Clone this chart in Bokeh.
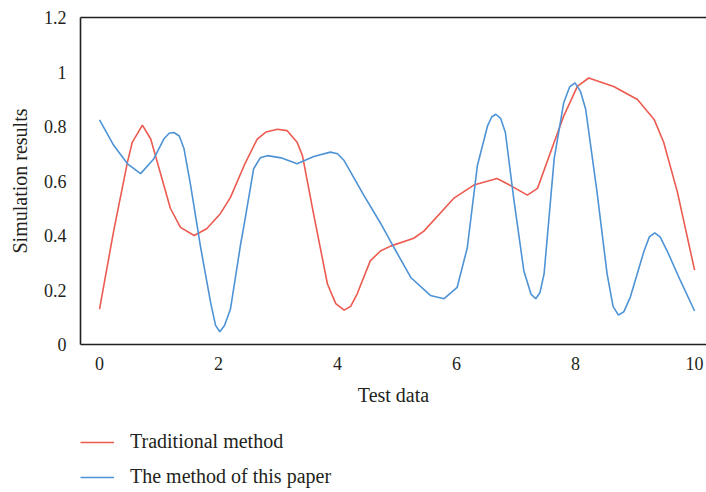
from bokeh.plotting import figure
from bokeh.models import Legend, LegendItem, LinearAxis, FixedTicker, Range1d
from bokeh.layouts import column
from bokeh.embed import file_html
from bokeh.resources import INLINE

# Traditional method (red)
trad_x = [0.00, 0.24, 0.47, 0.55, 0.72, 0.86, 0.97, 1.19, 1.36, 1.59, 1.80, 2.03, 2.20, 2.43,
          2.65, 2.80, 2.99, 3.15, 3.32, 3.41, 3.60, 3.83, 3.97, 4.11, 4.22, 4.33, 4.55, 4.72,
          4.89, 5.28, 5.45, 5.95, 6.29, 6.68, 6.85, 7.19, 7.36, 7.64, 7.80, 8.03, 8.22, 8.64,
          9.04, 9.32, 9.48, 9.71, 10.0]
trad_y = [0.13, 0.42, 0.67, 0.742, 0.805, 0.754, 0.67, 0.50, 0.43, 0.40, 0.425, 0.48, 0.54,
          0.657, 0.754, 0.78, 0.79, 0.785, 0.742, 0.693, 0.476, 0.222, 0.15, 0.126, 0.14,
          0.186, 0.307, 0.343, 0.361, 0.39, 0.416, 0.536, 0.585, 0.609, 0.59, 0.548, 0.573,
          0.742, 0.838, 0.947, 0.978, 0.947, 0.899, 0.826, 0.742, 0.56, 0.273]

# The method of this paper (blue)
paper_x = [0.00, 0.24, 0.47, 0.69, 0.91, 1.08, 1.17, 1.25, 1.34, 1.42, 1.53, 1.70, 1.87, 1.95,
           2.02, 2.10, 2.20, 2.37, 2.43, 2.59, 2.70, 2.82, 3.05, 3.32, 3.60, 3.88, 4.00, 4.11,
           4.44, 4.72, 4.95, 5.23, 5.56, 5.79, 6.01, 6.18, 6.35, 6.52, 6.59, 6.66, 6.74, 6.82,
           6.96, 7.13, 7.25, 7.33, 7.40, 7.47, 7.64, 7.80, 7.90, 7.99, 8.08, 8.17, 8.36, 8.53,
           8.63, 8.72, 8.81, 8.92, 9.15, 9.24, 9.33, 9.42, 9.54, 9.76, 10.0]
paper_y = [0.824, 0.73, 0.663, 0.627, 0.681, 0.754, 0.775, 0.778, 0.765, 0.718, 0.585, 0.355,
           0.15, 0.07, 0.047, 0.07, 0.13, 0.367, 0.44, 0.645, 0.685, 0.693, 0.685, 0.663,
           0.69, 0.706, 0.70, 0.675, 0.548, 0.446, 0.355, 0.246, 0.18, 0.168, 0.21, 0.355,
           0.657, 0.802, 0.835, 0.845, 0.83, 0.778, 0.536, 0.271, 0.185, 0.168, 0.19, 0.258,
           0.681, 0.887, 0.945, 0.96, 0.93, 0.863, 0.56, 0.258, 0.14, 0.108, 0.12, 0.174,
           0.343, 0.395, 0.41, 0.395, 0.343, 0.235, 0.123]

x_ticks = [0, 2, 4, 6, 8, 10]
y_ticks = [0, 0.2, 0.4, 0.6, 0.8, 1.0, 1.2]
y_tick_labels = {0: "0", 0.2: "0.2", 0.4: "0.4", 0.6: "0.6", 0.8: "0.8", 1.0: "1", 1.2: "1.2"}
series_names = ["Traditional method", "The method of this paper"]
series_colors = ["#ec5a50", "#4d93d5"]

FONT = "Liberation Serif"
TXT = "#231f20"
AX = "#231f20"

p = figure(width=706, height=408, output_backend="svg", toolbar_location=None,
           x_range=Range1d(-0.32, 10.2), y_range=Range1d(0, 1.2),
           min_border_left=80, min_border_top=17, min_border_right=0, min_border_bottom=60)
p.outline_line_color = None
p.xgrid.visible = False
p.ygrid.visible = False

p.line(trad_x, trad_y, line_color=series_colors[0], line_width=1.6)
p.line(paper_x, paper_y, line_color=series_colors[1], line_width=1.6)

for ax in (p.xaxis[0], p.yaxis[0]):
    ax.axis_line_color = AX
    ax.axis_line_width = 1.6
    ax.major_tick_line_color = None
    ax.minor_tick_line_color = None
    ax.major_label_text_font = FONT
    ax.major_label_text_font_size = "18px"
    ax.major_label_text_color = TXT
    ax.axis_label_text_font = FONT
    ax.axis_label_text_font_size = "20px"
    ax.axis_label_text_font_style = "normal"
    ax.axis_label_text_color = TXT

p.xaxis.ticker = FixedTicker(ticks=x_ticks)
p.yaxis.ticker = FixedTicker(ticks=y_ticks)
p.yaxis.major_label_overrides = y_tick_labels
p.xaxis.axis_label = "Test data"
p.yaxis.axis_label = "Simulation results"
p.xaxis.major_label_standoff = 6
p.yaxis.major_label_standoff = 8
p.xaxis.axis_label_standoff = 11
p.yaxis.axis_label_standoff = 10

top = LinearAxis(ticker=FixedTicker(ticks=[]), axis_line_color=AX, axis_line_width=1.6,
                 major_tick_line_color=None, minor_tick_line_color=None,
                 major_label_text_font_size="0px")
p.add_layout(top, "above")

# legend panel below the chart (its lines lie outside its view; only the legend shows)
lg = figure(width=706, height=84, output_backend="svg", toolbar_location=None,
            x_range=Range1d(100, 101), y_range=Range1d(100, 101),
            x_axis_type=None, y_axis_type=None,
            min_border_left=0, min_border_right=0, min_border_top=0, min_border_bottom=0)
lg.grid.visible = False
lg.outline_line_color = None
items = []
for name, col, xs, ys in zip(series_names, series_colors, [trad_x, paper_x], [trad_y, paper_y]):
    rr = lg.line(xs, ys, line_color=col, line_width=1.6)
    items.append(LegendItem(label=name, renderers=[rr]))
legend = Legend(items=items, orientation="vertical", location=(0, 4),
                label_text_font=FONT, label_text_font_size="20px", label_text_color=TXT,
                glyph_width=34, glyph_height=20, label_standoff=16, spacing=12,
                padding=0, margin=0, border_line_color=None, background_fill_alpha=0)
lg.add_layout(legend, "center")

layout = column(p, lg, spacing=0)
open("out.html", "w").write(file_html(layout, INLINE))
